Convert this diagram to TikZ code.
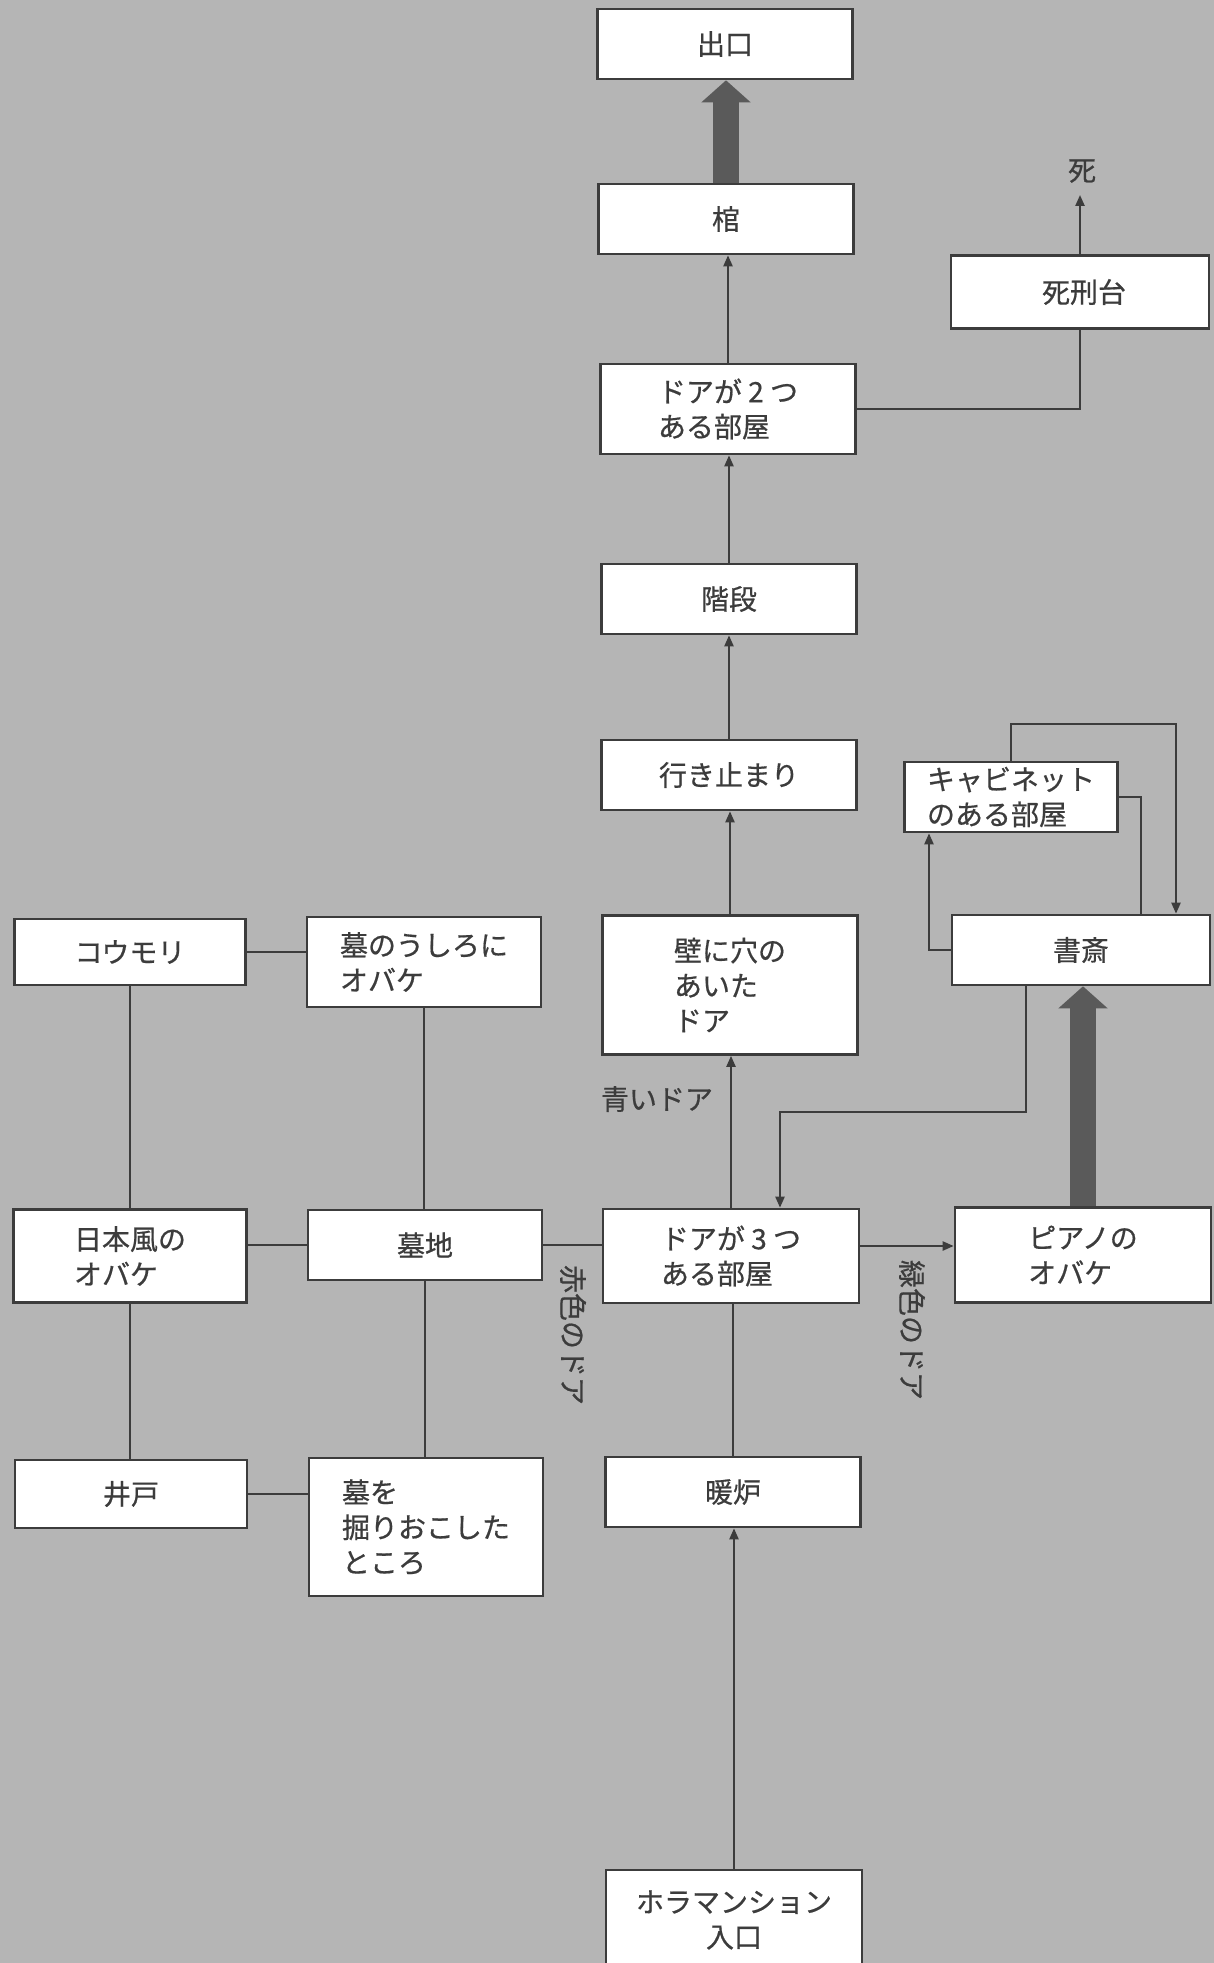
\documentclass[tikz,border=0pt]{standalone}
\usepackage{fontspec}
\setmainfont{Noto Sans CJK JP}[FakeBold=0.6]
\usetikzlibrary{arrows.meta}
\definecolor{paper}{HTML}{B5B5B5}
\definecolor{ink}{HTML}{3C3C3C}
\definecolor{passc}{HTML}{5A5A5A}

\begin{document}
\begin{tikzpicture}[
  x=1pt, y=-1pt,
  font=\fontsize{28}{35}\selectfont,
  >={Triangle[length=11pt,width=9pt]},
  room/.style={draw=ink, line width=2.6pt, fill=white, text=ink,
               minimum width=#1, minimum height=70pt, align=left, inner sep=0pt},
  room/.default=255pt,
  link/.style={draw=ink, line width=2.2pt},
  flow/.style={link, ->},
  pass/.style={draw=passc, line width=26pt, -{Triangle[length=22pt,width=48pt]}},
  door/.style={text=ink, inner sep=2pt},
]
\path[use as bounding box, fill=paper] (0,0) rectangle (1214,1963);

% ---------- Main corridor ----------
\node[room] (exit)   at (725,44)  {出口};
\node[room] (coffin) at (726,219) {棺};
\node[room, minimum height=90pt] (twodoor) at (728,409) {ドアが 2 つ\\ある部屋};
\node[room] (stairs)  at (729,599) {階段};
\node[room] (deadend) at (729,775) {行き止まり};
\node[room, minimum height=139pt] (holedoor) at (730,985) {壁に穴の\\あいた\\ドア};
\node[room=256pt, minimum height=94pt] (threedoor) at (731,1256) {ドアが 3 つ\\ある部屋};
\node[room] (hearth) at (733,1492) {暖炉};
\node[room=256pt, minimum height=100pt, align=center] (entrance) at (734,1920) {ホラマンション\\入口};

% ---------- Right wing ----------
\node[room=258pt, minimum height=73pt] (gallows) at (1080,292) {\hspace*{8pt}死刑台};
\node[door, inner sep=12pt] (death) at (1082,171) {死};
\node[room=213pt] (cabinet) at (1011,797) {キャビネット\\のある部屋};
\node[room=258pt] (study) at (1081,950) {書斎};
\node[room=256pt, minimum height=95pt] (piano) at (1083,1255) {ピアノの\\オバケ};

% ---------- Graveyard ----------
\node[room=231pt, minimum height=66pt] (bat)   at (130,952) {コウモリ};
\node[room=234pt, minimum height=90pt] (ghost) at (424,962) {墓のうしろに\\オバケ};
\node[room=233pt, minimum height=93pt] (jghost) at (130,1256) {日本風の\\オバケ};
\node[room=234pt] (grave) at (425,1245) {墓地};
\node[room=232pt, minimum height=68pt] (well) at (131,1494) {井戸};
\node[room=234pt, minimum height=138pt] (dug) at (426,1527) {墓を\\掘りおこした\\ところ};

% ---------- Door labels ----------
\node[door] (blue) at (657,1099) {青いドア};
\node[door, rotate=-90] (red) at (573,1335) {赤色のドア};
\node[door, rotate=-90] (green) at (912,1330) {緑色のドア};

% ---------- Connectors ----------
\draw[flow] (entrance.north) -- (entrance.north |- hearth.south);
\draw[link] (hearth.north) -- (hearth.north |- threedoor.south);
\draw[flow] (threedoor.north) -- (threedoor.north |- holedoor.south);
\draw[flow] (holedoor.north) -- (holedoor.north |- deadend.south);
\draw[flow] (deadend.north) -- (deadend.north |- stairs.south);
\draw[flow] (stairs.north) -- (stairs.north |- twodoor.south);
\draw[flow] (twodoor.north) -- (twodoor.north |- coffin.south);
\draw[pass] (coffin.north) -- (coffin.north |- exit.south);

% gallows
\draw[link] (twodoor.east) -| (gallows.south);
\draw[flow] (gallows.north) -- (gallows.north |- death.south);

% piano, study and cabinet
\draw[flow] ([yshift=10pt]threedoor.east) -- ([yshift=10pt]threedoor.east -| piano.west);
\draw[pass] (piano.north) -- (piano.north |- study.south);
\draw[flow] ([xshift=-55pt]study.south) -- ++(0,126) -| ([xshift=49pt]threedoor.north);
\draw[flow] (study.west) -| ([xshift=-82pt]cabinet.south);
\draw[link] (cabinet.east) -| ([xshift=60pt]study.north);
\draw[flow] (cabinet.north) -- ++(0,-37) -| ([xshift=95pt]study.north);

% graveyard grid
\draw[link] (grave.east) -- (grave.east -| threedoor.west);
\draw[link] (grave.west) -- (grave.west -| jghost.east);
\draw[link] (bat.east) -- (bat.east -| ghost.west);
\draw[link] (well.east) -- (well.east -| dug.west);
\draw[link] (bat.south) -- (bat.south |- jghost.north);
\draw[link] (jghost.south) -- (jghost.south |- well.north);
\draw[link] (ghost.south) -- (ghost.south |- grave.north);
\draw[link] (grave.south) -- (grave.south |- dug.north);

\end{tikzpicture}
\end{document}
